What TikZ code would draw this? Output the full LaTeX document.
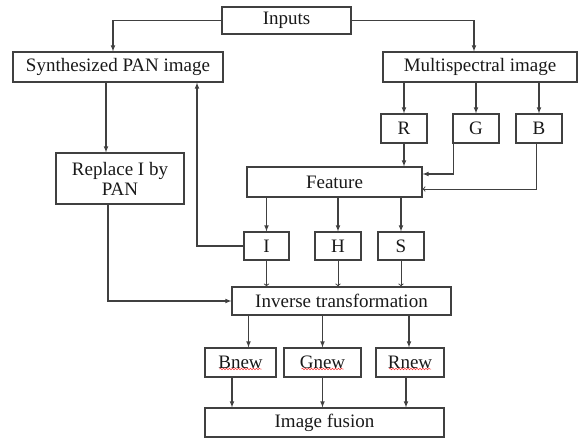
\documentclass[tikz,border=0pt]{standalone}
\usepackage{fontspec}
\setmainfont{Liberation Serif}
\usetikzlibrary{shapes.geometric, arrows, calc, decorations.pathmorphing}
\tikzstyle{box} = [draw=black!75, line width=1.1pt, rectangle, minimum height=29pt, inner sep=0pt, text=black!90, font=\fontsize{19}{20}\selectfont]
\tikzstyle{arrow} = [draw=black!75, line width=1.1pt, ->, >=latex]
\tikzstyle{openarrow} = [draw=black!75, line width=1pt, ->, >=to]
\tikzstyle{typo} = [draw=red!80, line width=0.5pt, decorate, decoration={snake, amplitude=0.8pt, segment length=3pt}]

\begin{document}
\begin{tikzpicture}[x=1pt, y=-1pt]
		\useasboundingbox (0,0) rectangle (578,439);

		% top row
		\node[box, minimum width=129pt, minimum height=27pt] (inputs) at (286.5,20.5) {Inputs};
		\node[box, minimum width=210pt, minimum height=30pt] (synth) at (118,67) {Synthesized PAN image};
		\node[box, minimum width=194pt, minimum height=30pt] (multi) at (480,67) {Multispectral image};

		% bands
		\node[box, minimum width=46pt] (R) at (404,128.5) {R};
		\node[box, minimum width=46pt] (G) at (476,128.5) {G};
		\node[box, minimum width=46pt] (B) at (539,128.5) {B};

		\node[box, minimum width=128pt, minimum height=51pt, align=center] (replace) at (120,178.5) {Replace I by\\PAN};
		\node[box, minimum width=175pt, minimum height=30pt] (feature) at (334.5,182) {Feature};

		\node[box, minimum width=45pt, minimum height=28pt] (I) at (266.5,246) {I};
		\node[box, minimum width=46pt, minimum height=28pt] (H) at (338,246) {H};
		\node[box, minimum width=46pt, minimum height=28pt] (S) at (401,246) {S};

		\node[box, minimum width=219pt, minimum height=28pt] (inverse) at (341.5,301) {Inverse transformation};

		\node[box, minimum width=71pt] (bnew) at (240.5,362.5) {Bnew};
		\node[box, minimum width=77pt] (gnew) at (322.5,362.5) {Gnew};
		\node[box, minimum width=68pt] (rnew) at (410,362.5) {Rnew};

		\node[box, minimum width=239pt] (fusion) at (324.5,422.5) {Image fusion};

		% red underlines
		\foreach \n in {bnew,gnew,rnew}{
			\draw[typo] ($(\n.center)+(-21,6.5)$) -- ($(\n.center)+(21,6.5)$);
		}

		% connectors
		\draw[arrow] (inputs.west) -| ([xshift=-5pt]synth.north);
		\draw[arrow] (inputs.east) -| ([xshift=-6pt]multi.north);
		\draw[arrow] ([xshift=-12pt]synth.south) -- ([xshift=-14pt]replace.north);

		\foreach \n in {R,G,B}{
			\draw[arrow] (multi.south -| \n.north) -- (\n.north);
		}
		\draw[arrow] (R.south) -- (R.south |- feature.north);
		\draw[arrow] ([xshift=1pt]G.south west) |- ([yshift=8pt]feature.east);
		\draw[openarrow] ([xshift=-3pt]B.south) |- ([yshift=-7pt]feature.east);

		\foreach \n in {I,H,S}{
			\draw[arrow] (feature.south -| \n.north) -- (\n.north);
			\draw[openarrow] (\n.south) -- (\n.south |- inverse.north);
		}
		\draw[arrow] (I.west) -| ([xshift=79pt]synth.south);
		\draw[arrow] ([xshift=-12pt]replace.south) |- (inverse.west);

		\foreach \n/\a/\b in {bnew/8/-8.5,gnew/0/0,rnew/-1/-4}{
			\draw[arrow] ($(inverse.south -| \n.north)+(\a,0)$) -- ($(\n.north)+(\a,0)$);
			\draw[arrow] ($(\n.south)+(\b,0)$) -- ($(fusion.north -| \n.south)+(\b,0)$);
		}
	\end{tikzpicture}
\end{document}
